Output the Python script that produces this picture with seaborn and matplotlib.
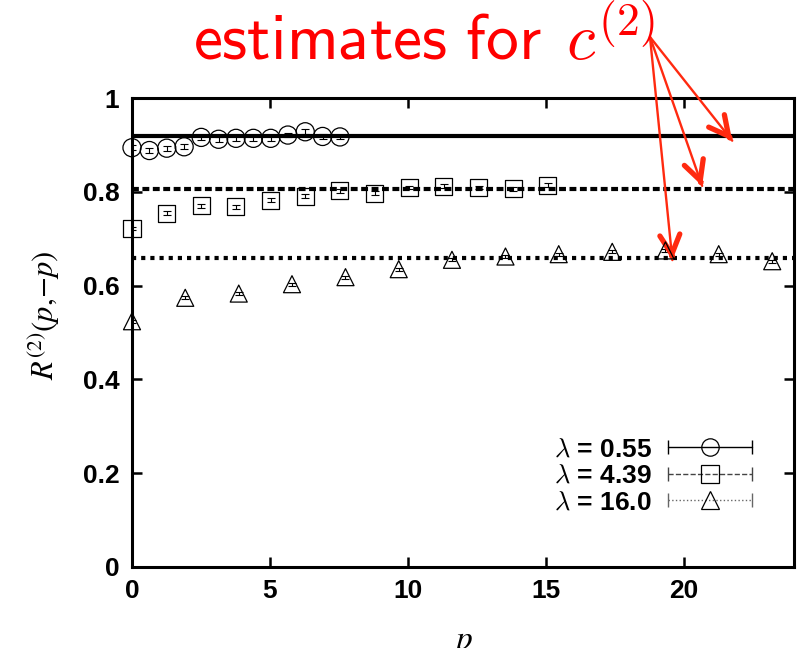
import matplotlib
matplotlib.use('Agg')
import matplotlib.pyplot as plt
import seaborn as sns
import numpy as np
from matplotlib.lines import Line2D
from matplotlib.legend_handler import HandlerLine2D, HandlerTuple

# lambda = 0.55
p_a = [0, 0.63, 1.26, 1.89, 2.51, 3.14, 3.77, 4.40, 5.03, 5.65, 6.28, 6.91, 7.54]
r_a = [0.894, 0.888, 0.893, 0.896, 0.916, 0.912, 0.914, 0.914, 0.914, 0.921, 0.928, 0.918, 0.917]
e_a = [0.005] * 13
# lambda = 4.39
p_b = [0, 1.26, 2.51, 3.77, 5.03, 6.28, 7.54, 8.80, 10.05, 11.31, 12.57, 13.82, 15.08]
r_b = [0.722, 0.754, 0.770, 0.768, 0.782, 0.791, 0.802, 0.797, 0.809, 0.812, 0.809, 0.806, 0.814]
e_b = [0.004] * 13
# lambda = 16.0
p_c = [0, 1.93, 3.87, 5.80, 7.74, 9.67, 11.60, 13.54, 15.47, 17.41, 19.34, 21.27, 23.21]
r_c = [0.524, 0.574, 0.583, 0.603, 0.618, 0.635, 0.655, 0.662, 0.667, 0.672, 0.675, 0.667, 0.652]
e_c = [0.003] * 13

c2 = [0.9195, 0.807, 0.6596]          # estimates for c^(2)
labels = [r'$\lambda$ = 0.55', r'$\lambda$ = 4.39', r'$\lambda$ = 16.0']
arrow_tips = [(21.76, 0.909), (20.67, 0.8126), (19.59, 0.6544)]

sns.set_style('ticks')
plt.rcParams['font.family'] = ['Liberation Sans', 'DejaVu Sans']
plt.rcParams['mathtext.fontset'] = 'cm'
for k in ['text.color', 'axes.labelcolor', 'xtick.color', 'ytick.color', 'axes.edgecolor']:
    plt.rcParams[k] = 'black'

fig = plt.figure(figsize=(8.01, 6.48), dpi=100)
ax = fig.add_axes([132 / 801, 81 / 648, 662 / 801, 469 / 648])

series = [(p_a, r_a, e_a, 'o', 170, 'black', '-'),
          (p_b, r_b, e_b, 's', 150, '#444444', '--'),
          (p_c, r_c, e_c, '^', 150, '#666666', ':')]
for p, r, e, m, s, col, ls in series:
    ax.errorbar(p, r, yerr=e, fmt='none', ecolor='black', elinewidth=0.8,
                capsize=3, capthick=0.8, zorder=3)
    sns.scatterplot(x=p, y=r, marker=m, s=s, facecolor='none', edgecolor='black',
                    linewidth=0.9, ax=ax, zorder=4, clip_on=False)

ax.axhline(c2[0], color='black', lw=3, ls='-', zorder=2)
ax.axhline(c2[1], color='black', lw=3, ls=(0, (1.65, 0.85)), dash_capstyle='butt', zorder=2)
ax.axhline(c2[2], color='black', lw=3, ls=(0, (1, 1.2)), dash_capstyle='butt', zorder=2)

ax.set_xlim(0, 24)
ax.set_ylim(0, 1)
ax.set_xticks([0, 5, 10, 15, 20])
ax.set_yticks([0, 0.2, 0.4, 0.6, 0.8, 1.0])
ax.set_yticklabels(['0', '0.2', '0.4', '0.6', '0.8', '1'])
for sp in ax.spines.values():
    sp.set_linewidth(2.2)
    sp.set_visible(True)
ax.tick_params(direction='in', length=7, width=1.8, top=True, right=True,
               labelsize=19, pad=9)
for t in ax.get_xticklabels() + ax.get_yticklabels():
    t.set_fontweight('bold')

ax.set_ylabel(r'$R^{(2)}(p,\!{-}p)$', fontsize=22, math_fontfamily='stix')
ax.yaxis.set_label_coords(-0.106, 0.537)
fig.text(463 / 801, 1 - 627 / 648, r'$p$', fontsize=24, math_fontfamily='stix',
         ha='center', va='top')

# legend, gnuplot style: text left, sample with end caps right
handles = []
hmap = {}
for p, r, e, m, s, col, ls in series:
    main = Line2D([], [], color=col, ls=ls, lw=1.0, marker=m, ms=12.5,
                  mfc='none', mec='black', mew=0.9)
    caps = Line2D([], [], ls='none', marker='|', ms=10, mec=col, mew=1.0)
    hmap[caps] = HandlerLine2D(numpoints=2, marker_pad=0)
    handles.append((main, caps))
hmap[tuple] = HandlerTuple(ndivide=1)
ax.legend(handles, labels, handler_map=hmap, loc='center right',
          bbox_to_anchor=(0.937, 0.194), frameon=False, markerfirst=False,
          borderpad=0, borderaxespad=0, handlelength=3.2, handletextpad=0.6,
          labelspacing=0.1, prop={'weight': 'bold', 'size': 19})

# red title with arrows
fig.text(193 / 801, 1 - 60 / 648, r'$\mathsf{estimates\ for}\;\,c^{\mathsf{(2)}}$',
         fontsize=47, color='red', ha='left', va='baseline', math_fontfamily='cm')
origin = np.array([650 / 801, 1 - 37 / 648])
acol = '#ff2a10'
for tip in arrow_tips:
    ax.annotate('', xy=tip, xycoords='data', xytext=tuple(origin),
                textcoords='figure fraction', annotation_clip=False,
                arrowprops=dict(arrowstyle='-', color=acol, lw=1.7,
                                shrinkA=0, shrinkB=0))
    tip_d = ax.transData.transform(tip)
    org_d = fig.transFigure.transform(origin)
    d = (tip_d - org_d) / np.linalg.norm(tip_d - org_d)
    back = tip_d - 4 * d
    ax.annotate('', xy=tip, xycoords='data', xytext=tuple(back),
                textcoords='figure pixels', annotation_clip=False,
                arrowprops=dict(arrowstyle='->,head_length=1.4,head_width=0.72',
                                color=acol, lw=3.8, shrinkA=0, shrinkB=0))

fig.savefig('out.png', dpi=100)
